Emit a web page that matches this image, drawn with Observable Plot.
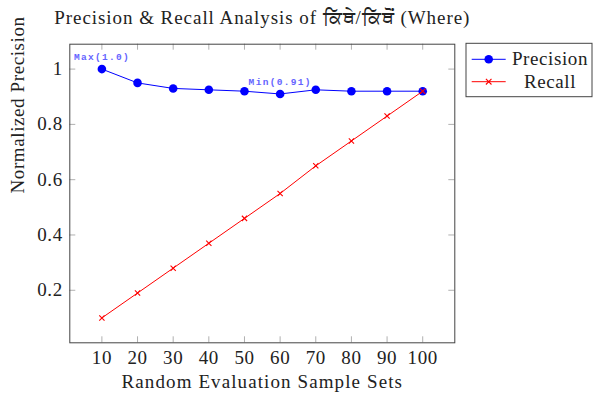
<!DOCTYPE html>
<html>
<head>
<meta charset="utf-8">
<script src="https://cdn.jsdelivr.net/npm/d3@7"></script>
<script src="https://cdn.jsdelivr.net/npm/@observablehq/plot@0.6"></script>
<style>
  html, body { margin: 0; padding: 0; background: #fff; }
  #chart { width: 595px; height: 397px; }
</style>
</head>
<body>
<div id="chart"></div>
<script>
// ---- data ----
const sampleSets = [10, 20, 30, 40, 50, 60, 70, 80, 90, 100];
const precision = [1.0, 0.95, 0.93, 0.925, 0.92, 0.91, 0.925, 0.92, 0.92, 0.92];
const recall = [0.10, 0.19, 0.28, 0.37, 0.46, 0.55, 0.65, 0.74, 0.83, 0.92];
const xTicks = [10, 20, 30, 40, 50, 60, 70, 80, 90, 100];
const yTicks = [0.2, 0.4, 0.6, 0.8, 1];
const annX = [10, 60];
const annY = [1.0, 0.91];
const annLabels = ["Max(1.0)", "Min(0.91)"];
const seriesNames = ["Precision", "Recall"];
const titleText = "Precision & Recall Analysis of ਕਿੱਥੇ/ਕਿੱਥੋਂ (Where)";
const xLabel = "Random Evaluation Sample Sets";
const yLabel = "Normalized Precision";

const precData = sampleSets.map((x, i) => ({x, y: precision[i]}));
const recData = sampleSets.map((x, i) => ({x, y: recall[i]}));
const annData = annX.map((x, i) => ({x, y: annY[i], label: annLabels[i]}));

const W = 595, H = 397;
const mT = 43.7, mB = 54.7, mL = 69.3, mR = 140.7;
const innerH = H - mT - mB, innerW = W - mL - mR;
const tickLen = 6;
const tickColor = "#b0b0b0";
const serif = "'Liberation Serif', 'Noto Sans', serif";

const plot = Plot.plot({
  width: W, height: H,
  marginTop: mT, marginBottom: mB, marginLeft: mL, marginRight: mR,
  style: {fontFamily: serif, fontSize: "19px", letterSpacing: "0.6px", background: "#fff", overflow: "visible"},
  x: {domain: [1, 109], axis: null},
  y: {domain: [0.01, 1.09], axis: null},
  marks: [
    // inner ticks on all four sides
    Plot.tickX(xTicks, {x: d => d, insetTop: innerH - tickLen, stroke: tickColor}),
    Plot.tickX(xTicks, {x: d => d, insetBottom: innerH - tickLen, stroke: tickColor}),
    Plot.tickY(yTicks, {y: d => d, insetRight: innerW - tickLen, stroke: tickColor}),
    Plot.tickY(yTicks, {y: d => d, insetLeft: innerW - tickLen, stroke: tickColor}),
    Plot.axisX(xTicks, {tickSize: 0, tickPadding: 8, tickFormat: d => String(d), label: null, fill: "#222"}),
    Plot.axisY(yTicks, {tickSize: 0, tickPadding: 7, tickFormat: d => String(d), label: null, fill: "#222"}),
    Plot.frame({stroke: "#444", strokeWidth: 1}),
    // precision
    Plot.line(precData, {x: "x", y: "y", stroke: "#0000ff", strokeWidth: 1}),
    Plot.dot(precData, {x: "x", y: "y", r: 4.3, fill: "#0000ff", stroke: "none"}),
    // recall
    Plot.line(recData, {x: "x", y: "y", stroke: "#ff0000", strokeWidth: 1}),
    Plot.dot(recData, {x: "x", y: "y", symbol: "times", r: 2.5, stroke: "#ff0000", strokeWidth: 1.1}),
    // annotations
    Plot.text(annData, {x: "x", y: "y", text: "label", dy: -12, fill: "#6464ff",
      fontFamily: "'Liberation Mono', monospace", fontSize: 9.5, fontWeight: "bold", lineAnchor: "middle",
      style: "letter-spacing:1.3px"}),
    // labels
    Plot.text([xLabel], {text: d => d, frameAnchor: "bottom", dy: 39, lineAnchor: "middle", fill: "#222"}),
    Plot.text([yLabel], {text: d => d, frameAnchor: "left", dx: -51.8, rotate: -90, lineAnchor: "middle", fill: "#222"}),
    Plot.text([titleText], {text: d => d, frameAnchor: "top", dy: -26.5, lineAnchor: "middle", fill: "#222"})
  ]
});

const svg = d3.select(plot);
// per-element letter spacing to match the reference text widths
svg.selectAll("text").each(function() {
  const t = this.textContent;
  if (t === xLabel) this.style.letterSpacing = "1.1px";
  else if (t === titleText) this.style.letterSpacing = "0.95px";
  else if (annLabels.includes(t)) this.style.letterSpacing = "1.3px";
});

// legend
const lg = svg.append("g").attr("class", "legend");
const lx = 466, ly = 43.3, lw = 126, lh = 53.4;
lg.append("rect").attr("x", lx).attr("y", ly).attr("width", lw).attr("height", lh)
  .attr("fill", "#fff").attr("stroke", "#444").attr("stroke-width", 1);
const rows = [
  {name: seriesNames[0], color: "#0000ff", y: 59.3, kind: "dot"},
  {name: seriesNames[1], color: "#ff0000", y: 81.7, kind: "times"}
];
for (const r of rows) {
  lg.append("line").attr("x1", 471.7).attr("x2", 505.7).attr("y1", r.y).attr("y2", r.y)
    .attr("stroke", r.color).attr("stroke-width", 1);
  if (r.kind === "dot") {
    lg.append("circle").attr("cx", 488.7).attr("cy", r.y).attr("r", 4.3).attr("fill", r.color);
  } else {
    lg.append("path").attr("d", d3.symbol(d3.symbolTimes, 22)())
      .attr("transform", `translate(488.7,${r.y})`).attr("stroke", r.color).attr("fill", "none").attr("stroke-width", 1.1);
  }
  lg.append("text").attr("x", 550).attr("y", r.y).attr("dy", "0.32em").attr("text-anchor", "middle")
    .attr("fill", "#222").text(r.name);
}

document.getElementById("chart").appendChild(plot);
</script>
</body>
</html>
